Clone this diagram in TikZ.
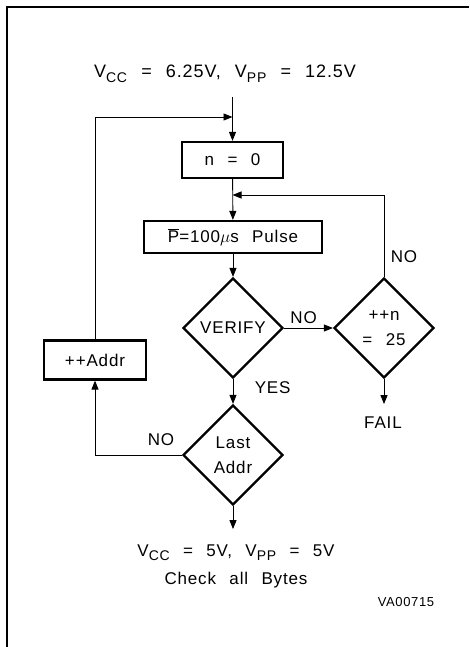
\documentclass[tikz,border=0pt]{standalone}
\usepackage{fontspec}
\setmainfont{Liberation Sans}[LetterSpace=5,WordSpace=2.4]
\usetikzlibrary{arrows.meta,positioning,shapes.geometric}
\newcommand{\vsub}[1]{\raisebox{-4.5pt}{\fontsize{14}{14}\selectfont #1}}
\tikzset{
  fc/box/.style={
    draw,
    line width=2.2pt,
    fill=white,
    align=center,
    inner sep=2pt,
    font=\fontsize{17}{20}\selectfont
  },
  fc/decision/.style={
    diamond,
    draw,
    line width=2.2pt,
    fill=white,
    align=center,
    aspect=1,
    inner sep=0pt,
    minimum width=100pt,
    minimum height=100pt,
    font=\fontsize{17}{25}\selectfont
  },
  fc/arrow/.style={-{Triangle[length=9pt,width=7pt]}, line width=0.9pt},
  fc/text/.style={font=\fontsize{17}{28}\selectfont, align=center},
  fc/tag/.style={font=\fontsize{13}{15}\selectfont}
}

\begin{document}
\begin{tikzpicture}[x=1pt,y=-1pt]
  \useasboundingbox (0,0) rectangle (469,647);
  % frame
  \draw[line width=2.5pt] (7,647) -- (7,7) -- (469,7);

  \node[fc/text,font=\fontsize{18}{22}\selectfont] (supply) at (225,74) {V\vsub{CC} = 6.25V, V\vsub{PP} = 12.5V};
  \coordinate (entry) at (232.5,97);
  \coordinate (join) at (232.5,117);
  \node[fc/box,minimum width=101pt,minimum height=36pt] (n0) at (232.5,160) {n = 0};
  \coordinate (rejoin) at (232.5,195);
  \node[fc/box,minimum width=178pt,minimum height=32pt] (pulse) at (233,237) {$\overline{\mbox{P}}$=100$\mu$s Pulse};
  \node[fc/decision] (verify) at (233,328) {VERIFY};
  \node[fc/decision] (retry) at (384,328) {++n\\= 25};
  \node[fc/text] (fail) at (383,423) {FAIL};
  \node[fc/decision] (last) at (233,455) {Last\\Addr};
  \node[fc/box,minimum width=102pt,minimum height=39pt] (addr) at (95,360) {++Addr};
  \node[fc/text] (done) at (236,566) {V\vsub{CC} = 5V, V\vsub{PP} = 5V\\Check all Bytes};
  \node[fc/tag] (code) at (406,602) {VA00715};

  % main flow
  \draw[fc/arrow] (entry) -- (n0);
  \draw[fc/arrow] (n0) -- (pulse);
  \draw[fc/arrow] (pulse) -- (verify);
  \draw[fc/arrow] (verify) -- node[above=1pt,fc/text,pos=0.4] {NO} (retry);
  \draw[fc/arrow] (retry.south) -- ++(0,25) coordinate (failtip);
  \draw[fc/arrow] (verify) -- node[right,fc/text,pos=0.33,xshift=18pt] {YES} (last);
  \draw[fc/arrow] (last.south) -- ++(0,23) coordinate (donetip);

  % loops
  \draw[fc/arrow] (retry.north) -- node[right,fc/text,pos=0.25,xshift=3pt] {NO} (retry.north |- rejoin) -- (rejoin);
  \draw[fc/arrow] (last.west) -- node[above=6pt,fc/text,pos=0.24] {NO} (addr.south |- last.west) -- (addr.south);
  \draw[fc/arrow] (addr.north) -- (addr.north |- join) -- (join);
\end{tikzpicture}
\end{document}
